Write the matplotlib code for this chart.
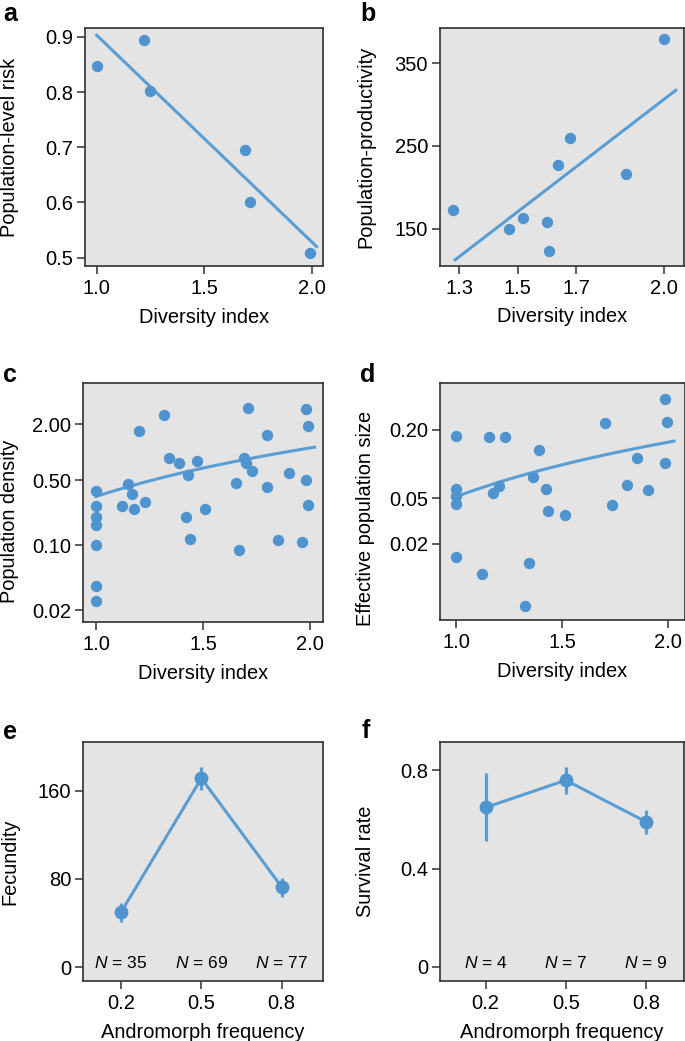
import numpy as np
import matplotlib
matplotlib.use("Agg")
import matplotlib.pyplot as plt

plt.rcParams["font.family"] = ["Liberation Sans", "DejaVu Sans"]
plt.rcParams["mathtext.fontset"] = "custom"
plt.rcParams["mathtext.it"] = "Liberation Sans:italic"
plt.rcParams["mathtext.rm"] = "Liberation Sans"

# Datos panel a
div_a = [1.0, 1.219, 1.247, 1.689, 1.711, 1.989]
riesgo_a = [0.847, 0.894, 0.802, 0.695, 0.601, 0.508]

# Datos panel b
div_b = [1.278, 1.469, 1.517, 1.599, 1.608, 1.638, 1.678, 1.870, 2.0]
prod_b = [172.6, 150.0, 163.3, 157.7, 123.0, 227.4, 259.7, 216.5, 379.4]

# Datos panel c
div_c = [1.0, 1.0, 1.0, 1.0, 1.0, 1.0, 1.0, 1.121, 1.149, 1.170, 1.179, 1.201,
         1.230, 1.317, 1.341, 1.389, 1.431, 1.470, 1.420, 1.440, 1.510, 1.652,
         1.669, 1.692, 1.701, 1.709, 1.729, 1.799, 1.799, 1.849, 1.902, 1.960,
         1.980, 1.991, 1.980, 1.991]
dens_c = [0.387, 0.265, 0.200, 0.164, 0.101, 0.0365, 0.0252, 0.265, 0.456, 0.353,
          0.244, 1.71, 0.290, 2.50, 0.861, 0.762, 0.570, 0.800, 0.200, 0.117,
          0.242, 0.464, 0.089, 0.861, 0.774, 3.02, 0.635, 1.52, 0.424, 0.114,
          0.594, 0.107, 2.92, 1.92, 0.504, 0.272]

# Datos panel d
div_d = [1.0, 1.0, 1.0, 1.0, 1.0, 1.123, 1.153, 1.172, 1.203, 1.232, 1.323, 1.342,
         1.364, 1.393, 1.424, 1.434, 1.516, 1.705, 1.737, 1.806, 1.856, 1.907,
         1.987, 1.998, 1.987]
ne_d = [0.176, 0.0601, 0.0530, 0.0448, 0.0155, 0.0110, 0.174, 0.0555, 0.0648,
        0.171, 0.0057, 0.0136, 0.0776, 0.133, 0.0601, 0.0392, 0.0356, 0.230,
        0.0436, 0.0656, 0.113, 0.0593, 0.371, 0.232, 0.103]

# Rango de las rectas de ajuste
rango_a = (1.0, 2.02)
rango_b = (1.286, 2.039)
rango_c = (1.0, 2.02)
rango_d = (1.0, 2.03)

# Coeficientes del ajuste log10(y) = b0 + b1*log10(x) (c y d)
coef_c = (-0.477, 1.74)
coef_d = (-1.285, 1.58)

# Datos paneles e y f
frecuencias = ["0.2", "0.5", "0.8"]
fecundidad = [49.6, 171.2, 72.6]
fec_inf = [40.5, 160.6, 63.8]
fec_sup = [57.8, 181.2, 80.5]
n_fec = [35, 69, 77]

supervivencia = [0.649, 0.760, 0.591]
sup_inf = [0.514, 0.705, 0.539]
sup_sup = [0.788, 0.8125, 0.639]
n_sup = [4, 7, 9]

AZUL_PUNTO = "#4f93cf"
AZUL_LINEA = "#5a9dd3"
FONDO = "#e4e4e4"
W, H = 685, 1041
TAM = 14.4

fig = plt.figure(figsize=(W / 100, H / 100), dpi=100)


def crear_ejes(izq, der, arriba, abajo):
    ax = fig.add_axes([izq / W, 1 - abajo / H, (der - izq) / W, (abajo - arriba) / H])
    ax.set_facecolor(FONDO)
    for s in ax.spines.values():
        s.set_color("#303030")
        s.set_linewidth(1.2)
    ax.tick_params(direction="out", length=5.5, width=1.1, color="#303030",
                   labelsize=14.5, pad=3)
    ax.tick_params(axis="x", pad=4)
    return ax


def estilo_etiquetas(ax, xlabel, ylabel, ypos, ycentro=0.5):
    ax.set_xlabel(xlabel, fontsize=TAM)
    ax.set_ylabel(ylabel, fontsize=TAM)
    ax.xaxis.set_label_coords(0.5, -0.176)
    ax.yaxis.set_label_coords(ypos, ycentro)


def recta_ajuste(ax, x, y, rango):
    coef = np.polyfit(np.asarray(x), np.asarray(y), 1)
    xs = np.linspace(rango[0], rango[1], 100)
    ax.plot(xs, np.polyval(coef, xs), color=AZUL_LINEA, lw=2.2, zorder=2)


def curva_log(ax, coef, rango):
    xs = np.linspace(rango[0], rango[1], 100)
    ys = 10 ** (coef[0] + coef[1] * np.log10(xs))
    ax.plot(xs, ys, color=AZUL_LINEA, lw=2.2, zorder=2)


def puntos(ax, x, y):
    ax.plot(x, y, "o", color=AZUL_PUNTO, ms=8.2, mec="none", zorder=3)


# Panel a
ax = crear_ejes(85, 323, 28, 266)
puntos(ax, div_a, riesgo_a)
recta_ajuste(ax, div_a, riesgo_a, rango_a)
ax.set_xlim(0.946, 2.05)
ax.set_ylim(0.485, 0.916)
ax.set_xticks([1.0, 1.5, 2.0])
ax.set_yticks([0.5, 0.6, 0.7, 0.8, 0.9])
estilo_etiquetas(ax, "Diversity index", "Population-level risk", -0.277)

# Panel b
ax = crear_ejes(440, 684, 28.3, 265.7)
puntos(ax, div_b, prod_b)
recta_ajuste(ax, div_b, prod_b, rango_b)
ax.set_xlim(1.235, 2.067)
ax.set_ylim(105.2, 392.3)
ax.set_xticks([1.3, 1.5, 1.7, 2.0])
ax.set_yticks([150, 250, 350])
estilo_etiquetas(ax, "Diversity index", "Population-productivity", -0.266)

# Panel c
ax = crear_ejes(83.3, 322.7, 383.3, 621.7)
puntos(ax, div_c, dens_c)
curva_log(ax, coef_c, rango_c)
ax.set_yscale("log")
ax.set_xlim(0.941, 2.058)
ax.set_ylim(0.015, 5.52)
ax.set_xticks([1.0, 1.5, 2.0])
ax.set_yticks([0.02, 0.1, 0.5, 2.0])
ax.set_yticklabels(["0.02", "0.10", "0.50", "2.00"])
ax.minorticks_off()
estilo_etiquetas(ax, "Diversity index", "Population density", -0.268, 0.42)

# Panel d
ax = crear_ejes(440, 684.5, 382.7, 620)
puntos(ax, div_d, ne_d)
curva_log(ax, coef_d, rango_d)
ax.set_yscale("log")
ax.set_xlim(0.923, 2.079)
ax.set_ylim(0.00432, 0.515)
ax.set_xticks([1.0, 1.5, 2.0])
ax.set_yticks([0.02, 0.05, 0.2])
ax.set_yticklabels(["0.02", "0.05", "0.20"])
ax.minorticks_off()
estilo_etiquetas(ax, "Diversity index", "Effective population size", -0.266, 0.43)


def panel_medias(ax, medias, inf, sup, ns, xlim, ylim, yticks, ytl, ylabel, ypos):
    pos = np.arange(len(frecuencias))
    medias = np.asarray(medias)
    err = [medias - np.asarray(inf), np.asarray(sup) - medias]
    ax.errorbar(pos, medias, yerr=err, fmt="-o", color=AZUL_LINEA, mfc=AZUL_PUNTO,
                mec="none", ms=10, lw=2.2, elinewidth=2.3, capsize=0, zorder=3)
    for p, n in zip(pos, ns):
        ax.text(p, 0.077, rf"$N$ = {n}", transform=ax.get_xaxis_transform(),
                ha="center", va="center", fontsize=12.5)
    ax.set_xlim(*xlim)
    ax.set_ylim(*ylim)
    ax.set_xticks(pos)
    ax.set_xticklabels(frecuencias)
    ax.set_yticks(yticks)
    ax.set_yticklabels(ytl)
    estilo_etiquetas(ax, "Andromorph frequency", ylabel, ypos)


# Panel e
ax = crear_ejes(83.3, 322.7, 742.3, 981)
panel_medias(ax, fecundidad, fec_inf, fec_sup, n_fec, (-0.469, 2.51), (-12.7, 203.9),
             [0, 80, 160], ["0", "80", "160"], "Fecundity", -0.268)

# Panel f
ax = crear_ejes(440, 684.3, 741.7, 981)
panel_medias(ax, supervivencia, sup_inf, sup_sup, n_sup, (-0.57, 2.48), (-0.058, 0.917),
             [0, 0.4, 0.8], ["0", "0.4", "0.8"], "Survival rate", -0.266)

# Letras de los paneles
for letra, x, y in [("a", 3, 21), ("b", 360, 21), ("c", 3, 381.7),
                    ("d", 360, 381.7), ("e", 3, 739), ("f", 362, 738.3)]:
    fig.text(x / W, 1 - y / H, letra, fontsize=18, fontweight="bold",
             ha="left", va="baseline")

fig.savefig("out.png", dpi=100)
